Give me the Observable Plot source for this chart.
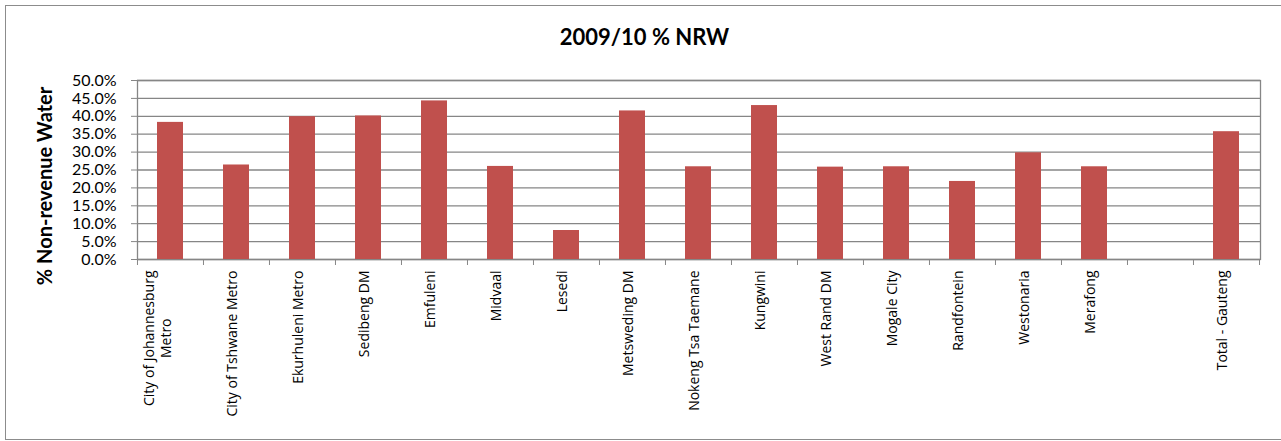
<!DOCTYPE html>
<html>
<head>
<meta charset="utf-8">
<script src="https://cdn.jsdelivr.net/npm/d3@7"></script>
<script src="https://cdn.jsdelivr.net/npm/@observablehq/plot@0.6"></script>
<style>
  html, body { margin: 0; padding: 0; background: #fff; }
  #wrap { position: relative; width: 1281px; height: 441px; overflow: hidden; font-family: Lato, "Noto Sans", sans-serif; }
  #border { position: absolute; left: 5px; top: 5px; width: 1300px; height: 435px; border: 1px solid #8c8c8c; box-sizing: border-box; }
  #title { position: absolute; left: 4px; width: 1281px; top: 23px; text-align: center; font-weight: bold; font-size: 22px; color: #000; }
  #chart { position: absolute; left: 0; top: 0; }
</style>
</head>
<body>
<div id="wrap">
  <div id="border"></div>
  <div id="chart"></div>
  <div id="title">2009/10 % NRW</div>
</div>
<script>
const categories = [
  "City of Johannesburg Metro", "City of Tshwane Metro", "Ekurhuleni Metro", "Sedibeng DM",
  "Emfuleni", "Midvaal", "Lesedi", "Metsweding DM", "Nokeng Tsa Taemane", "Kungwini",
  "West Rand DM", "Mogale City", "Randfontein", "Westonaria", "Merafong", " ", "Total - Gauteng"
];
const labels = [
  "City of Johannesburg\nMetro", "City of Tshwane Metro", "Ekurhuleni Metro", "Sedibeng DM",
  "Emfuleni", "Midvaal", "Lesedi", "Metsweding DM", "Nokeng Tsa Taemane", "Kungwini",
  "West Rand DM", "Mogale City", "Randfontein", "Westonaria", "Merafong", "", "Total - Gauteng"
];
const nrwPercent = [38.3, 26.4, 39.9, 40.1, 44.3, 26.0, 8.1, 41.5, 25.9, 43.0, 25.8, 25.9, 21.8, 29.8, 25.9, null, 35.7];
const yTicks = [0, 5, 10, 15, 20, 25, 30, 35, 40, 45, 50];
const yTitle = "% Non-revenue Water";

const W = 1281, H = 441;
const mL = 137, mR = 21, mT = 80, mB = 182;
const step = (W - mL - mR) / categories.length;
const grid = "#868686";
const labelFontFamily = "'Open Sans', 'Noto Sans', sans-serif";
const labelSize = 14;

const rows = categories.map((c, i) => ({cat: c, value: nrwPercent[i], label: labels[i]}));
const barRows = rows.filter(d => d.value != null);
const singleLabels = rows.filter(d => d.label && !d.label.includes("\n"));
const multiLabels = rows.filter(d => d.label.includes("\n"));

const ctx = document.createElement("canvas").getContext("2d");
ctx.font = `${labelSize}px 'Open Sans'`;
const firstLineWidth = d => ctx.measureText(d.label.split("\n")[0]).width;

const chart = Plot.plot({
  width: W, height: H,
  marginLeft: mL, marginRight: mR, marginTop: mT, marginBottom: mB,
  style: {fontFamily: "Lato, 'Noto Sans', sans-serif", color: "#000", background: "transparent"},
  x: {domain: categories, padding: 0.6, paddingOuter: 0.3, align: 0.5},
  y: {domain: [0, 50]},
  marks: [
    Plot.ruleY(yTicks, {stroke: grid, strokeWidth: 1.3}),
    Plot.frame({stroke: grid, strokeWidth: 1.3}),
    Plot.barY(barRows, {x: "cat", y: "value", fill: "#C0504D"}),
    Plot.axisY(yTicks, {tickSize: 6, tickPadding: 15, stroke: grid, tickFormat: d => d.toFixed(1) + "%", fontSize: 16, label: null}),
    Plot.axisX({tickSize: 6, stroke: grid, tickFormat: () => "", dx: -step / 2, label: null}),
    Plot.axisX([categories[categories.length - 1]], {tickSize: 6, stroke: grid, tickFormat: () => "", dx: step / 2, label: null}),
    Plot.text(singleLabels, {x: "cat", text: "label", frameAnchor: "bottom", rotate: -90, textAnchor: "end", dy: 11, fontSize: labelSize, fontFamily: labelFontFamily, fill: "#000"}),
    Plot.text(multiLabels, {x: "cat", text: "label", frameAnchor: "bottom", rotate: -90, textAnchor: "middle", lineHeight: 1.2, dy: 11 + firstLineWidth(multiLabels[0]) / 2, fontSize: labelSize, fontFamily: labelFontFamily, fill: "#000"}),
    Plot.text([yTitle], {text: d => d, frameAnchor: "left", rotate: -90, textAnchor: "middle", dx: -92, dy: 16, fontSize: 20, fontWeight: "bold", fill: "#000"})
  ]
});
document.getElementById("chart").appendChild(chart);
</script>
</body>
</html>
